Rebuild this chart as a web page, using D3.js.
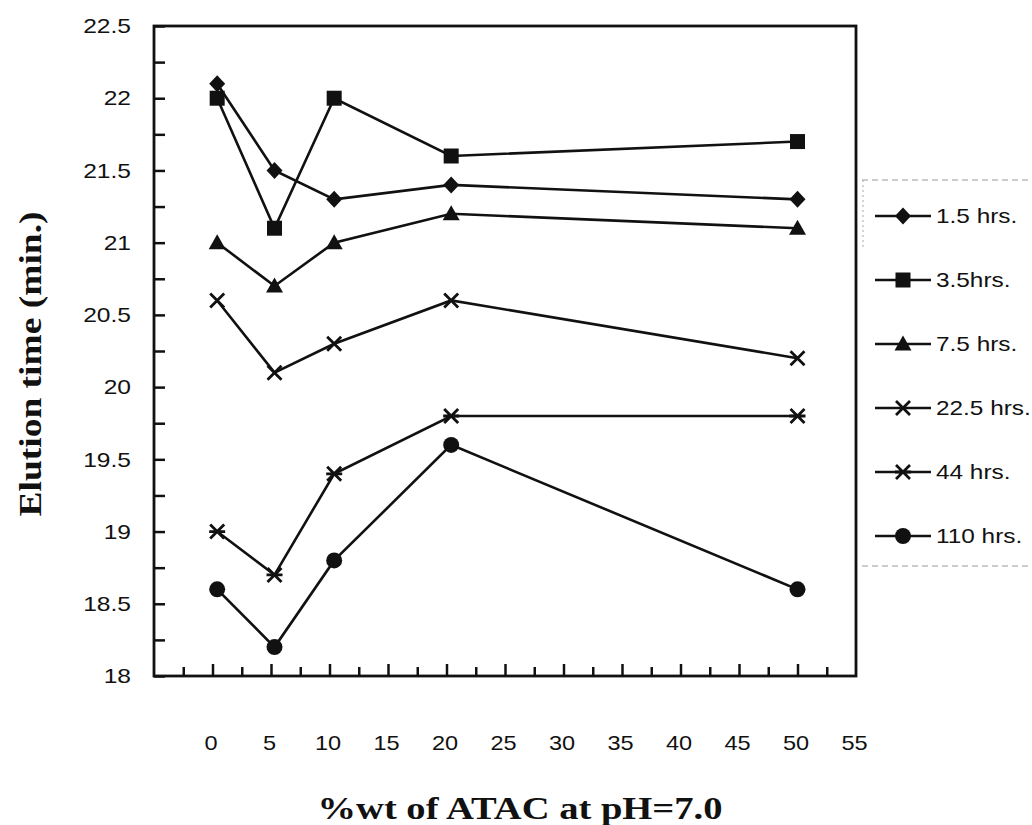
<!DOCTYPE html>
<html>
<head>
<meta charset="utf-8">
<script src="https://cdn.jsdelivr.net/npm/d3@7"></script>
<style>
  html, body { margin: 0; padding: 0; background: #fff; }
  svg { display: block; }
</style>
</head>
<body>
<svg id="chart" width="1032" height="825"></svg>
<script>
// ---- data ----
const xValues = [0.4, 5.3, 10.4, 20.4, 50];
const seriesNames = ["1.5 hrs.", "3.5hrs.", "7.5 hrs.", "22.5 hrs.", "44 hrs.", "110 hrs."];
const seriesMarkers = ["diamond", "square", "triangle", "cross", "asterisk", "circle"];
const s1_5 = [22.1, 21.5, 21.3, 21.4, 21.3];
const s3_5 = [22.0, 21.1, 22.0, 21.6, 21.7];
const s7_5 = [21.0, 20.7, 21.0, 21.2, 21.1];
const s22_5 = [20.6, 20.1, 20.3, 20.6, 20.2];
const s44 = [19.0, 18.7, 19.4, 19.8, 19.8];
const s110 = [18.6, 18.2, 18.8, 19.6, 18.6];
const seriesValues = [s1_5, s3_5, s7_5, s22_5, s44, s110];
const xTickLabels = [0, 5, 10, 15, 20, 25, 30, 35, 40, 45, 50, 55];
const yTickLabels = [18, 18.5, 19, 19.5, 20, 20.5, 21, 21.5, 22, 22.5];
const xTitle = "%wt of ATAC at pH=7.0";
const yTitle = "Elution time (min.)";

(function () {
// ---- layout ----
const svg = d3.select("#chart");
const pL = 154, pR = 856, pT = 26, pB = 676;
const x = d3.scaleLinear().domain([-5, 55]).range([pL, pR]);
const y = d3.scaleLinear().domain([18, 22.5]).range([pB, pT]);
const sans = "'Liberation Sans', Arial, sans-serif";
const serif = "'Liberation Serif', 'Times New Roman', serif";

function stretch(sel, k) {
  sel.each(function () {
    const w = this.getComputedTextLength();
    this.setAttribute("textLength", w * k);
    this.setAttribute("lengthAdjust", "spacingAndGlyphs");
  });
}

// y axis ticks (inside) every 0.25
const yAxis = d3.axisRight(y)
  .tickValues(d3.range(18, 22.5001, 0.25))
  .tickSize(11).tickFormat("");
const gy = svg.append("g").attr("transform", `translate(${pL},0)`).call(yAxis);
gy.select(".domain").remove();
gy.selectAll("line").attr("stroke", "#111").attr("stroke-width", 2.5);

// y labels
const yLab = d3.axisLeft(y).tickValues(yTickLabels).tickSize(0).tickPadding(0)
  .tickFormat(d => String(d));
const gyl = svg.append("g").attr("transform", `translate(${pL - 23},0)`).call(yLab);
gyl.select(".domain").remove();
gyl.selectAll("text").attr("font-family", sans).attr("font-size", 21).attr("fill", "#111")
  .call(stretch, 1.17);

// x axis ticks: major every 5 (tall), minor at 2.5 offsets
const xMaj = d3.axisTop(x).tickValues(d3.range(0, 51, 5)).tickSize(12).tickFormat("");
const gxm = svg.append("g").attr("transform", `translate(0,${pB})`).call(xMaj);
gxm.select(".domain").remove();
gxm.selectAll("line").attr("stroke", "#111").attr("stroke-width", 2.5);
const xMin = d3.axisTop(x).tickValues(d3.range(-2.5, 55, 5)).tickSize(9).tickFormat("");
const gxn = svg.append("g").attr("transform", `translate(0,${pB})`).call(xMin);
gxn.select(".domain").remove();
gxn.selectAll("line").attr("stroke", "#111").attr("stroke-width", 2.5);

// x labels far below axis
const xLab = d3.axisBottom(x).tickValues(xTickLabels).tickSize(0).tickPadding(0)
  .tickFormat(d => String(d));
const gxl = svg.append("g").attr("transform", `translate(-2,${pB + 59})`).call(xLab);
gxl.select(".domain").remove();
gxl.selectAll("text").attr("font-family", sans).attr("font-size", 21).attr("fill", "#111")
  .call(stretch, 1.12);

// frame
svg.append("rect").attr("x", pL).attr("y", pT)
  .attr("width", pR - pL).attr("height", pB - pT)
  .attr("fill", "none").attr("stroke", "#111").attr("stroke-width", 2.8);

// markers
function drawMarker(g, type, cx, cy) {
  const c = "#111";
  if (type === "diamond") {
    g.append("path").attr("d", `M${cx},${cy-8.5} L${cx+8},${cy} L${cx},${cy+8.5} L${cx-8},${cy} Z`).attr("fill", c);
  } else if (type === "square") {
    g.append("rect").attr("x", cx-7.5).attr("y", cy-7.5).attr("width", 15).attr("height", 15).attr("fill", c);
  } else if (type === "triangle") {
    g.append("path").attr("d", `M${cx},${cy-8.5} L${cx+8.5},${cy+6.5} L${cx-8.5},${cy+6.5} Z`).attr("fill", c);
  } else if (type === "circle") {
    g.append("circle").attr("cx", cx).attr("cy", cy).attr("r", 8).attr("fill", c);
  } else if (type === "cross") {
    g.append("path").attr("d", `M${cx-7},${cy-7} L${cx+7},${cy+7} M${cx+7},${cy-7} L${cx-7},${cy+7}`)
      .attr("stroke", c).attr("stroke-width", 2.8).attr("fill", "none");
  } else if (type === "asterisk") {
    g.append("path").attr("d", `M${cx-7},${cy-7} L${cx+7},${cy+7} M${cx+7},${cy-7} L${cx-7},${cy+7} M${cx-8},${cy} L${cx+8},${cy}`)
      .attr("stroke", c).attr("stroke-width", 2.8).attr("fill", "none");
  }
}

const line = d3.line().x((d, i) => x(xValues[i])).y(d => y(d));
seriesValues.forEach((vals, si) => {
  const g = svg.append("g");
  g.append("path").datum(vals).attr("d", line)
    .attr("fill", "none").attr("stroke", "#111").attr("stroke-width", 2.6);
  vals.forEach((v, i) => drawMarker(g, seriesMarkers[si], x(xValues[i]), y(v)));
});

// legend
const lg = svg.append("g");
const legTop = 180, legBottom = 566;
lg.append("line").attr("x1", 862).attr("x2", 1032).attr("y1", legTop).attr("y2", legTop)
  .attr("stroke", "#999").attr("stroke-width", 1).attr("stroke-dasharray", "6,4");
lg.append("line").attr("x1", 862).attr("x2", 1032).attr("y1", legBottom).attr("y2", legBottom)
  .attr("stroke", "#999").attr("stroke-width", 1).attr("stroke-dasharray", "6,4");
lg.append("line").attr("x1", 863).attr("x2", 863).attr("y1", legTop).attr("y2", 248)
  .attr("stroke", "#aaa").attr("stroke-width", 1).attr("stroke-dasharray", "2,3");
seriesNames.forEach((name, i) => {
  const cy = 216 + i * 64;
  const g = lg.append("g");
  g.append("line").attr("x1", 875).attr("x2", 931).attr("y1", cy).attr("y2", cy)
    .attr("stroke", "#111").attr("stroke-width", 2.6);
  drawMarker(g, seriesMarkers[i], 903, cy);
  g.append("text").attr("x", 936).attr("y", cy).attr("dy", "0.35em")
    .attr("font-family", sans).attr("font-size", 21).attr("fill", "#111").text(name)
    .call(stretch, 1.16);
});

// titles
svg.append("text").attr("x", 520).attr("y", 819).attr("text-anchor", "middle")
  .attr("font-family", serif).attr("font-weight", "bold").attr("font-size", 32)
  .attr("textLength", 405).attr("lengthAdjust", "spacingAndGlyphs")
  .attr("fill", "#111").text(xTitle);
svg.append("text").attr("transform", "translate(41,364) rotate(-90)").attr("text-anchor", "middle")
  .attr("font-family", serif).attr("font-weight", "bold").attr("font-size", 32)
  .attr("textLength", 305).attr("lengthAdjust", "spacingAndGlyphs")
  .attr("fill", "#111").text(yTitle);
})();
</script>
</body>
</html>
